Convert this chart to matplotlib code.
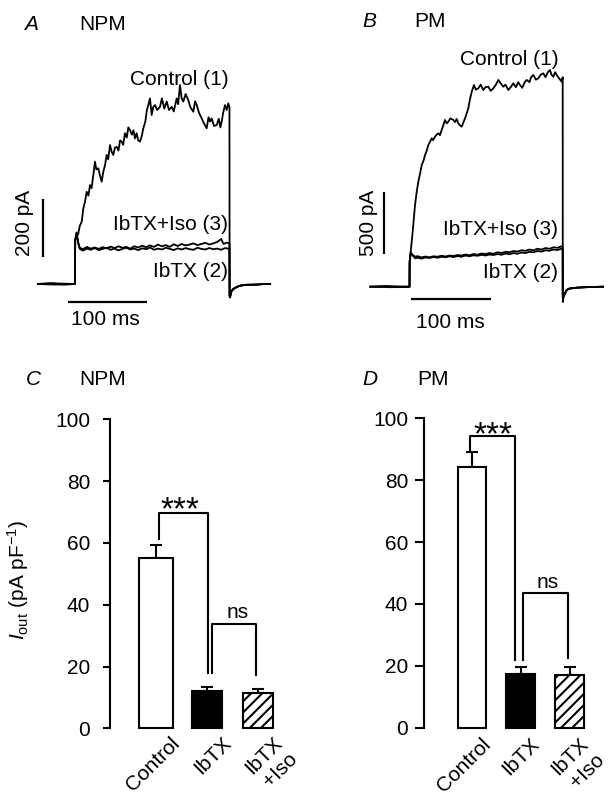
import matplotlib.pyplot as plt

plt.rcParams['font.family'] = ['Liberation Sans', 'DejaVu Sans']
plt.rcParams['mathtext.fontset'] = 'custom'
plt.rcParams['mathtext.rm'] = 'Liberation Sans'
plt.rcParams['mathtext.it'] = 'Liberation Sans:italic'
plt.rcParams['hatch.linewidth'] = 1.5

FS = 15

# ---------------- A: NPM traces (time in ms, current in pA) ----------------
npm_ctrl_t = [-47, -30, -15, 0, 0.2, 2, 4, 6, 8.5, 10.5, 12.7, 14.8, 17, 19, 21, 23.2, 25.3, 27,
              29.5, 31.5, 33.8, 35.8, 38, 40.1, 42, 44.3, 46.5, 48.5, 50.5, 52.8, 55, 57, 59.1,
              61, 63.3, 65.5, 67.5, 69.6, 72, 74, 75.9, 78, 80, 82.3, 84.5, 86.5, 89, 91, 92.8,
              94.9, 97.1, 99, 101.3, 104, 107.6, 110, 113, 116.1, 119, 122.4, 125, 128.7, 130.5,
              132.9, 135, 137.1, 140, 143.4, 146, 149.7, 152, 154.1, 157, 160.4, 163, 166.7, 169,
              171, 173, 176, 179.4, 182, 184, 185.7, 187.5, 189.9, 192, 194, 195.5]
npm_ctrl_i = [0, 3, -2, 0, 150, 165, 172, 200, 215, 260, 284, 318, 305, 341, 330, 376, 422, 395,
              399, 375, 353, 387, 410, 445, 430, 479, 455, 445, 470, 473, 460, 495, 491,
              480, 520, 505, 540, 531, 515, 530, 502, 520, 495, 491, 510, 537, 560, 600, 617,
              640, 583, 610, 617, 600, 611, 640, 605, 629, 600, 611, 595, 640, 620,
              686, 640, 629, 655, 634, 610, 594, 630, 617, 590, 571, 555, 537, 575,
              560, 571, 545, 548, 570, 540, 560, 590, 617, 600, 623, 610]

npm_ibtx_t = [-47, -25, 0, 0.2, 2, 4, 6, 10, 15, 20, 25, 30, 35, 40, 45, 50, 55, 60, 65, 70, 75,
              80, 85, 90, 95, 100, 105, 110, 115, 120, 125, 130, 135, 140, 145, 150, 155, 160,
              165, 170, 175, 180, 185, 190, 195.5]
npm_ibtx_i = [0, -2, 0, 150, 178, 140, 121, 115, 122, 118, 124, 117, 121, 125, 118, 122, 116,
              121, 125, 119, 122, 117, 123, 120, 126, 118, 122, 119, 125, 121, 117, 123, 119,
              124, 120, 118, 125, 121, 119, 124, 120, 122, 118, 124, 121]

npm_iso_t = [-47, -25, 0, 0.2, 2, 4, 6, 10, 15, 20, 25, 30, 35, 40, 45, 50, 55, 60, 65, 70, 75,
             80, 85, 90, 95, 100, 105, 110, 115, 120, 125, 130, 135, 140, 145, 150, 155, 160,
             165, 170, 175, 180, 185, 188, 192, 195.5]
npm_iso_i = [0, 2, 0, 150, 175, 145, 125, 120, 128, 122, 126, 121, 127, 123, 129, 124, 130, 125,
             128, 122, 130, 126, 132, 127, 133, 128, 136, 130, 134, 128, 137, 131, 138, 133,
             136, 140, 134, 138, 142, 136, 140, 145, 155, 138, 143, 140]

npm_tail_t = [195.7, 196.2, 198, 200.4, 205, 208.9, 215, 230, 240, 247]
npm_tail_i = [-40, -46, -25, -17, -10, -6, -3, -2, 0, 0]

# ---------------- B: PM traces ----------------
pm_ctrl_t = [-49, -30, -15, 0, 0.2, 1.5, 4, 6.9, 9, 11, 13, 15.3, 17.5, 19.4, 21.5, 23.5, 25.5,
             27.8, 29.5, 31.9, 34, 36, 38, 40.3, 42, 44.4, 46.5, 48.5, 51, 54.8, 57, 59, 61, 63,
             65.3, 67.5, 69.4, 71.5, 73.5, 75.5, 77.8, 80.6, 83, 86, 89, 92.3, 95, 98.5, 101.5,
             104.8, 108, 111, 114, 117.3, 120, 123.5, 126.5, 129.8, 133, 136, 138.1, 141, 144,
             146.5, 150, 152, 154.8, 158, 161, 164, 167.3, 170, 173, 175.6, 177.5, 179.8, 182,
             184, 187, 190.3, 191.5]
pm_ctrl_i = [0, 5, -4, 0, 200, 281, 441, 655, 760, 842, 900, 976, 1010, 1056, 1090, 1136, 1160,
             1190, 1175, 1203, 1220, 1230, 1215, 1257, 1290, 1337, 1310, 1323, 1350, 1337, 1320,
             1345, 1310, 1295, 1283, 1320, 1350, 1390, 1431, 1500, 1564, 1617, 1580, 1591, 1620,
             1577, 1600, 1604, 1570, 1591, 1620, 1658, 1630, 1604, 1620, 1577, 1600, 1631, 1600,
             1640, 1617, 1595, 1640, 1658, 1640, 1680, 1698, 1660, 1671, 1700, 1711, 1680, 1720,
             1738, 1700, 1684, 1720, 1698, 1670, 1644, 1680]

pm_ibtx_t = [-49, -25, 0, 0.2, 1.5, 4, 7, 10, 15, 20, 25, 30, 35, 40, 45, 50, 55, 60, 65, 70, 75,
             80, 85, 90, 95, 100, 105, 110, 115, 120, 125, 130, 135, 140, 145, 150, 155, 160,
             165, 170, 175, 180, 185, 190, 191.5]
pm_ibtx_i = [0, -4, 0, 200, 268, 250, 228, 232, 225, 235, 230, 238, 232, 240, 236, 244, 238, 246,
             240, 250, 244, 252, 248, 256, 250, 258, 254, 262, 256, 266, 260, 270, 264, 274, 270,
             280, 276, 286, 282, 292, 288, 298, 294, 306, 300]

pm_iso_t = [-49, -25, 0, 0.2, 1.5, 4, 7, 10, 15, 20, 25, 30, 35, 40, 45, 50, 55, 60, 65, 70, 75,
            80, 85, 90, 95, 100, 105, 110, 115, 120, 125, 130, 135, 140, 145, 150, 155, 160, 165,
            170, 175, 180, 185, 190, 191.5]
pm_iso_i = [0, 4, 0, 200, 275, 255, 240, 245, 235, 242, 236, 244, 240, 248, 242, 250, 246, 254,
            250, 258, 252, 262, 256, 266, 262, 270, 264, 276, 270, 280, 276, 286, 282, 292, 288,
            298, 292, 304, 298, 310, 304, 316, 312, 324, 318]

pm_tail_t = [191.6, 191.8, 192.3, 196.5, 200, 209, 220, 242]
pm_tail_i = [-60, -120, -80, -26, -15, -8, -4, 0]

# ---------------- C / D: bar data (pA/pF) ----------------
conditions = ['Control', 'IbTX', 'IbTX\n+Iso']
npm_mean = [55.2, 12.2, 11.3]
npm_sem = [4.2, 1.3, 1.3]
pm_mean = [84.2, 17.3, 16.9]
pm_sem = [5.0, 2.2, 2.8]

# significance brackets: (x, y) of each bracket line
npm_star_bracket = ([0.065, 0.065, 1.025, 1.025], [61.2, 69.8, 69.8, 17.8])
npm_ns_bracket = ([1.098, 1.098, 1.96, 1.96], [17.8, 33.7, 33.7, 17.3])
pm_star_bracket = ([-0.04, -0.04, 0.88, 0.88], [89.2, 94.3, 94.3, 21.9])
pm_ns_bracket = ([1.04, 1.04, 1.96, 1.96], [21.9, 43.4, 43.4, 22.4])

W, H = 611, 802
fig = plt.figure(figsize=(W / 100, H / 100), dpi=100)


def px_axes(x0, y0, x1, y1):
    # axes placed by pixel box (top-left origin)
    return fig.add_axes([x0 / W, 1 - y1 / H, (x1 - x0) / W, (y1 - y0) / H])


def fig_label(px, py, s, **kw):
    fig.text(px / W, 1 - py / H, s, fontsize=FS, ha='center', va='baseline', **kw)


def draw_traces(ax, traces, tail_t, tail_i):
    for t, i in traces:
        ax.plot(t + tail_t, i + tail_i, color='black', lw=1.3)


def draw_scale(ax, vx, v0, v1, h0, h1, hy, vlabel, vlx, vly, hlx, hly):
    ax.plot([vx, vx], [v0, v1], color='black', lw=1.6, solid_capstyle='butt')
    ax.plot([h0, h1], [hy, hy], color='black', lw=1.6, solid_capstyle='butt')
    ax.text(vlx, vly, vlabel, rotation=90, ha='center', va='center', fontsize=FS)
    ax.text(hlx, hly, '100 ms', ha='center', va='baseline', fontsize=FS)


# panel A
axA = px_axes(0, 0, 300, 340)
axA.set_xlim(-75 / 0.79, 225 / 0.79)
axA.set_ylim(-56 / 0.29, 284 / 0.29)
axA.axis('off')
draw_traces(axA, [(npm_ctrl_t, npm_ctrl_i), (npm_ibtx_t, npm_ibtx_i), (npm_iso_t, npm_iso_i)],
            npm_tail_t, npm_tail_i)
draw_scale(axA, -40, 92, 292, -9.2, 90.8, -61, '200 pA', -63.3, 210, 39, -141)
axA.text(194, 686, 'Control (1)', ha='right', va='baseline', fontsize=FS)
axA.text(194, 186, 'IbTX+Iso (3)', ha='right', va='baseline', fontsize=FS)
axA.text(194, 25, 'IbTX (2)', ha='right', va='baseline', fontsize=FS)

# panel B
axB = px_axes(300, 0, 611, 340)
axB.set_xlim((300 - 409.5) / 0.8, (611 - 409.5) / 0.8)
axB.set_ylim((286.7 - 340) / 0.1247, 286.7 / 0.1247)
axB.axis('off')
draw_traces(axB, [(pm_ctrl_t, pm_ctrl_i), (pm_ibtx_t, pm_ibtx_i), (pm_iso_t, pm_iso_i)],
            pm_tail_t, pm_tail_i)
draw_scale(axB, -31.9, 262, 762, 1.9, 101.9, -101, '500 pA', -51.5, 515, 50.6, -334)
axB.text(186, 1778, 'Control (1)', ha='right', va='baseline', fontsize=FS)
axB.text(186, 415, 'IbTX+Iso (3)', ha='right', va='baseline', fontsize=FS)
axB.text(186, 67, 'IbTX (2)', ha='right', va='baseline', fontsize=FS)


def draw_bars(ax, means, sems, widths, brackets, star_xy, ns_xy, shift, pad, ticklen, ypad):
    pos = [0, 1, 2]
    fills = ['white', 'black', 'white']
    hatches = [None, None, '///']
    for p, m, w, f, h in zip(pos, means, widths, fills, hatches):
        ax.bar(p, m, width=w, color=f, edgecolor='black', linewidth=1.5, hatch=h,
               clip_on=False, zorder=2)
    ax.errorbar(pos, means, yerr=[[0, 0, 0], sems], fmt='none', ecolor='black',
                elinewidth=1.5, capsize=4.5, capthick=1.5, zorder=1, clip_on=False)
    for bx, by in brackets:
        ax.plot(bx, by, color='black', lw=1.5, clip_on=False)
    ax.text(star_xy[0], star_xy[1], '***', ha='center', va='baseline', fontsize=24)
    ax.text(ns_xy[0], ns_xy[1], 'ns', ha='center', va='baseline', fontsize=FS)
    ax.set_ylim(0, 100)
    ax.set_yticks([0, 20, 40, 60, 80, 100])
    ax.set_xticks([p + shift for p in pos], labels=conditions, rotation=45, ha='right',
                  va='top', rotation_mode='anchor')
    ax.tick_params(axis='x', length=0, pad=pad, labelsize=FS)
    ax.tick_params(axis='y', length=ticklen, width=1.5, pad=ypad, labelsize=FS)
    for s in ['top', 'right', 'bottom']:
        ax.spines[s].set_visible(False)
    ax.spines['left'].set_linewidth(1.5)
    ax.set_facecolor('none')


# panel C
axC = px_axes(110, 419.3, 290, 728.3)
axC.set_xlim((110 - 156) / 51, (290 - 156) / 51)
draw_bars(axC, npm_mean, npm_sem, [0.686, 0.57, 0.57],
          [npm_star_bracket, npm_ns_bracket], (0.47, 67.6), (1.61, 35.6),
          0.28, 3.6, 5.3, 9)

# panel D
axD = px_axes(424, 418.3, 600, 727.7)
axD.set_xlim((424 - 471.8) / 49, (600 - 471.8) / 49)
draw_bars(axD, pm_mean, pm_sem, [0.58, 0.59, 0.59],
          [pm_star_bracket, pm_ns_bracket], (0.43, 91.5), (1.55, 45.1),
          0.18, 5, 6.5, 4.8)

fig.text(18 / W, 1 - 580 / H, r'$\mathit{I}_{\rm out}$ (pA pF$^{-1}$)', rotation=90,
         ha='center', va='center', fontsize=FS)

# panel headings
fig_label(30.5, 30, 'A', style='italic')
fig_label(102.7, 30, 'NPM')
fig_label(369, 26.7, 'B', style='italic')
fig_label(430, 26.7, 'PM')
fig_label(33, 385, 'C', style='italic')
fig_label(103, 385, 'NPM')
fig_label(370, 385, 'D', style='italic')
fig_label(433, 385, 'PM')

fig.savefig('out.png', dpi=100)
